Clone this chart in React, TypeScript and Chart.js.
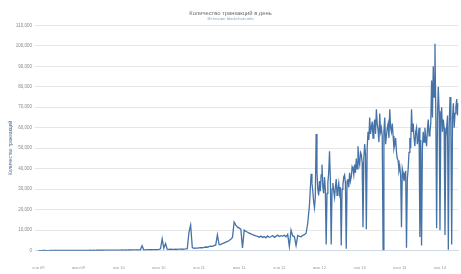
import React, { useEffect, useRef } from "react";
import { Chart, registerables } from "chart.js";

Chart.register(...registerables);

const chartTitle = "Количество транзакций в день";
const chartSubtitle = "Источник: blockchain.info";
const yAxisTitle = "Количество транзакций";

const xTickLabels = ["янв 09", "июл 09", "янв 10", "июл 10", "янв 11", "июл 11", "янв 12", "июл 12", "янв 13", "июл 13", "янв 14"];
const xTickEvery = 24; // samples per half-year (4 per month)

const yTickValues = [0, 10000, 20000, 30000, 40000, 50000, 60000, 70000, 80000, 90000, 100000, 110000];

// weekly-ish samples (4 per month), Jan 2009 onward
const tx2009 = [
  30, 60, 40, 90, 120, 80, 70, 110, 100, 130, 90, 140,
  120, 110, 150, 130, 140, 160, 130, 150, 170, 140, 160, 180,
  150, 170, 190, 160, 180, 200, 170, 210, 190, 220, 200, 230,
  210, 240, 230, 220, 260, 250, 240, 280, 260, 300, 270, 290,
];
const tx2010 = [
  310, 280, 330, 300, 340, 320, 360, 350, 380, 360, 400, 390,
  420, 450, 2400, 460, 430, 480, 500, 470, 520, 540, 500, 560, 600,
  900, 5800, 1200, 3500,
  800, 650, 700, 620, 680, 700, 650, 720, 760, 700, 800, 850,
  1000, 9000, 12500, 1500,
];
const tx2011 = [
  1200, 1300, 1250, 1400, 1500, 1450, 1600, 1800, 1700, 2000, 2200, 2100, 2500,
  2800, 7700, 3000,
  3000, 3500, 3800, 4200, 4500, 5000, 5600, 6500,
  14000, 12500, 11500, 11000,
  10500, 1400, 10000,
  9500, 9000, 8600, 8200, 7800, 7500, 7200, 7000,
  6600, 7100, 6500, 6900, 6300, 7200, 6600, 6800, 7400, 6500, 7000, 7600, 6900, 7300,
];
const tx2012a = [7100, 7500, 6800, 8000, 2000, 10000, 7200, 6900, 2500, 7400, 7000, 6800, 7500, 7800, 8500];

// from spring 2012 onward: twice as dense (8 per month)
const tx2012b = [
  13500, 18000, 22000, 30000, 37500, 33000, 29000, 24000, 21000, 26000,
  57000, 38000, 30000, 27000, 34000, 29000, 37000, 42000, 31000, 28000,
  36000, 30000, 3000, 28000, 33000, 38000, 48500, 35000, 3000, 30000,
  33000, 29000, 26000, 31000, 35000, 27000, 30000, 33000, 28000, 31000,
  2500, 30000, 32000, 36000, 37000, 33000, 1000, 34000, 35000, 31000,
  38000, 34000, 36000, 41000, 40000, 37000, 42000, 38000, 45000, 40000,
  51000, 44000, 42000, 48000, 47000, 43000,
];
const tx2013 = [
  11500, 45000, 52000, 47000, 10500, 50000, 58000, 54000, 65000, 57000,
  60000, 63000, 55000, 61000, 64000, 57000, 69000, 62000, 59000, 53000,
  67000, 58000, 60000, 56000, 500, 58000, 65000, 52000, 56000, 60000,
  62000, 55000, 69000, 60000, 58000, 62000, 56000, 50000, 52000, 55000,
  48000, 45000, 44000, 39000, 41000, 37000, 11500, 40000, 38000, 34000,
  36500, 39000, 1400, 35000, 40000, 48000, 55000, 50000, 69000, 58000,
  62000, 55000, 51000, 58000, 60000, 52000, 55000, 60000, 6700, 54000,
  2500, 50000, 58000, 53000, 60000, 55000, 51000, 59000, 64000, 56000,
  58000, 62000, 83000, 65000, 90000, 75000, 101000, 68000, 11000, 65000,
  80000, 68000, 10000, 62000, 70000, 58000,
];
const tx2014 = [64000, 60000, 7700, 55000, 60000, 66000, 500, 60000, 75000, 62000, 3000, 65000, 72000, 60000, 67000, 70000, 74000, 66000, 72000];

const txEarly = [...tx2009, ...tx2010, ...tx2011, ...tx2012a];
const txLate = [...tx2012b, ...tx2013, ...tx2014];

const yTitlePlugin = {
  id: "yTitlePlugin",
  afterDraw(chart: any) {
    const ctx = chart.ctx;
    ctx.save();
    ctx.translate(11, 148);
    ctx.rotate(-Math.PI / 2);
    ctx.font = "5px 'Liberation Sans', Arial, sans-serif";
    ctx.fillStyle = "#4d6a8a";
    ctx.textAlign = "center";
    ctx.textBaseline = "middle";
    ctx.fillText(yAxisTitle, 0, 0);
    ctx.restore();
  },
};

export default function App() {
  const canvasRef = useRef<HTMLCanvasElement | null>(null);

  useEffect(() => {
    if (!canvasRef.current) return;
    const points = [
      ...txEarly.map((v, i) => ({ x: i, y: v })),
      ...txLate.map((v, j) => ({ x: txEarly.length + j / 2, y: v })),
    ];
    const xMax = points[points.length - 1].x;
    const chart = new Chart(canvasRef.current, {
      type: "line",
      data: {
        datasets: [
          {
            data: points,
            borderColor: "#4572A7",
            borderWidth: 1.3,
            pointRadius: 0,
            fill: false,
            tension: 0,
          },
        ],
      },
      plugins: [yTitlePlugin],
      options: {
        animation: false,
        responsive: true,
        maintainAspectRatio: false,
        layout: { padding: { top: 0, right: 0, bottom: 0, left: 0 } },
        plugins: {
          legend: { display: false },
          tooltip: { enabled: false },
          title: {
            display: true,
            text: chartTitle,
            color: "#6b6b6b",
            font: { size: 5.8, family: "'Liberation Sans', Arial, sans-serif", weight: "normal", lineHeight: 1 },
            padding: { top: 10.5, bottom: 0 },
          },
          subtitle: {
            display: true,
            text: chartSubtitle,
            color: "#8aa0bb",
            font: { size: 4, family: "'Liberation Sans', Arial, sans-serif", lineHeight: 1 },
            padding: { top: 0.5, bottom: 4.5 },
          },
        },
        scales: {
          x: {
            type: "linear",
            min: -2,
            max: xMax,
            grid: { display: false, drawTicks: false },
            border: { display: true, color: "#d0dae6" },
            afterBuildTicks: (scale: any) => {
              scale.ticks = xTickLabels.map((_, k) => ({ value: k * xTickEvery }));
            },
            afterFit: (scale: any) => {
              scale.height = 23.3;
            },
            ticks: {
              autoSkip: false,
              maxRotation: 0,
              padding: 15,
              color: "#999",
              font: { size: 4, family: "'Liberation Sans', Arial, sans-serif" },
              callback: (value: any) => {
                const k = Math.round(Number(value) / xTickEvery);
                return xTickLabels[k] ?? "";
              },
            },
          },
          y: {
            min: 0,
            max: 110000,
            grid: { color: "#e6e6e6", lineWidth: 1, drawTicks: false },
            border: { display: false },
            afterBuildTicks: (scale: any) => {
              scale.ticks = yTickValues.map((v) => ({ value: v }));
            },
            afterFit: (scale: any) => {
              scale.width = 35;
            },
            ticks: {
              padding: 3,
              color: "#888",
              font: { size: 4.5, family: "'Liberation Sans', Arial, sans-serif" },
              callback: (value: any) => Number(value).toLocaleString("en-US"),
            },
          },
        },
      },
    });
    return () => chart.destroy();
  }, []);

  return (
    <div style={{ position: "fixed", left: 0, top: 0, width: 461, height: 274, background: "#fff" }}>
      <canvas ref={canvasRef} />
    </div>
  );
}
